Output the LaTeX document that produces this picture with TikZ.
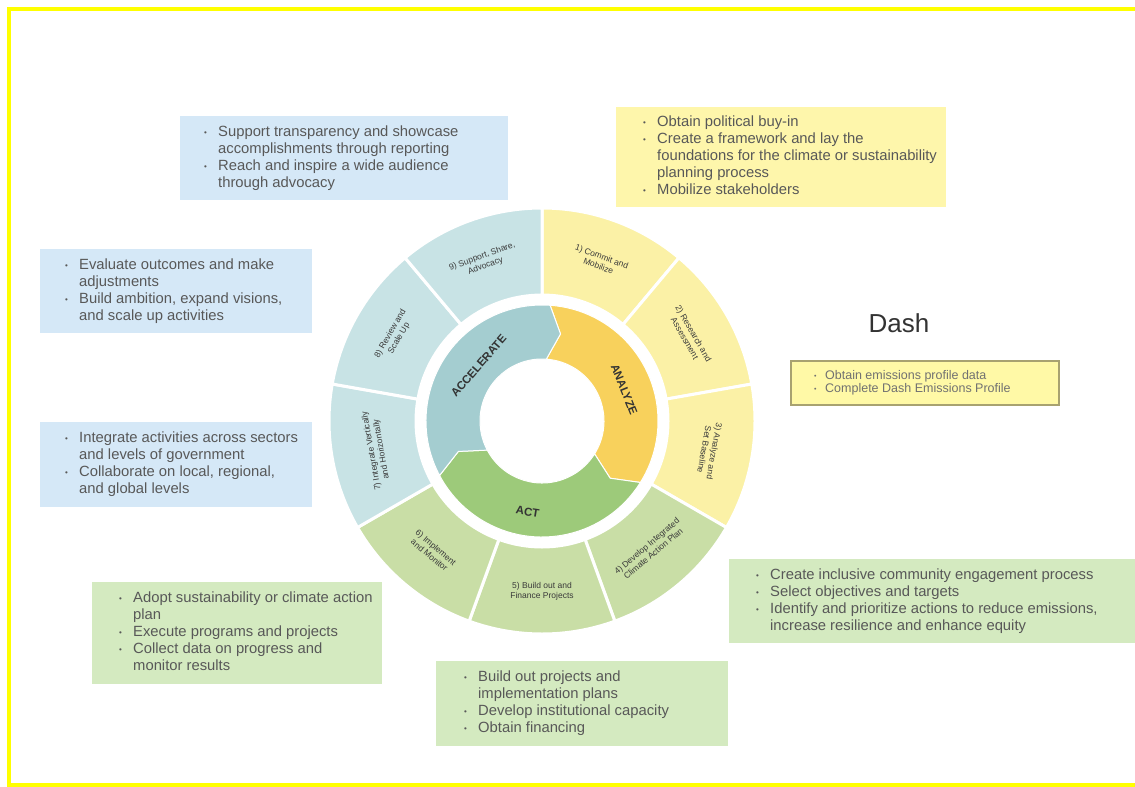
\documentclass[tikz,border=0pt]{standalone}
\usepackage{fontspec}
\setmainfont{Liberation Sans}
\usetikzlibrary{calc}

\definecolor{frameY}{HTML}{FFFF00}
\definecolor{segBlue}{HTML}{C8E3E5}
\definecolor{segYellow}{HTML}{FBF1A6}
\definecolor{segGreen}{HTML}{C9DEA6}
\definecolor{arrBlue}{HTML}{A4CDD0}
\definecolor{arrGold}{HTML}{F8D15C}
\definecolor{arrGreen}{HTML}{9DCA7A}
\definecolor{boxBlue}{HTML}{D5E8F7}
\definecolor{boxYellow}{HTML}{FEF6AB}
\definecolor{boxGreen}{HTML}{D4EAC0}
\definecolor{dashFill}{HTML}{FFF9A6}
\definecolor{dashLine}{HTML}{A8A270}
\definecolor{bodyText}{HTML}{585858}
\definecolor{segText}{HTML}{3A3A3A}
\definecolor{titleText}{HTML}{333333}

% bullet cell used inside the text tables
\newcommand{\bu}{\hbox to 14pt{\raisebox{1pt}{\fontsize{8}{8}\selectfont\textbullet}\hfil}}
\newcommand{\sbu}{\hbox to 11pt{\raisebox{0.8pt}{\fontsize{7}{7}\selectfont\textbullet}\hfil}}

% one arrow of the inner ring: back angle #1, tip angle #2, colour #3
\newcommand{\ringarrow}[3]{%
  \filldraw[fill=#3, draw=white, line width=1pt]
    (#1:116) arc[start angle=#1, end angle={#2+8}, radius=116]
    -- (#2:89) -- ({#2+8}:62)
    arc[start angle={#2+8}, end angle=#1, radius=62]
    -- ({#1-8}:89) -- cycle;}

\tikzset{
  infobox/.style={anchor=north west, inner sep=0pt, draw=none},
  infotext/.style={anchor=west, inner sep=0pt, text=bodyText,
    font=\fontsize{14.8}{17}\selectfont},
  seglabel/.style={align=center, text=segText, inner sep=0pt,
    font=\fontsize{8.5}{10}\selectfont},
  arrowlabel/.style={inner sep=0pt, text=titleText,
    font=\bfseries\fontsize{11.5}{13}\selectfont},
  segpiece/.style={draw=white, line width=3pt}
}

\begin{document}
\begin{tikzpicture}[x=1pt,y=-1pt]
\useasboundingbox (0,0) rectangle (1135,787);
\fill[white] (0,0) rectangle (1135,787);

% yellow frame (open on the right)
\draw[frameY, line width=4pt] (1135,9) -- (9,9) -- (9,785) -- (1135,785);

% ---------------- wheel ----------------
\begin{scope}[shift={(542,421)}, y=1pt]
  % outer ring of nine steps
  \foreach \a/\c in {50/segYellow, 10/segYellow, -30/segYellow,
                     -70/segGreen, -110/segGreen, -150/segGreen,
                     170/segBlue, 130/segBlue, 90/segBlue} {
    \filldraw[segpiece, fill=\c] (\a:213) arc[start angle=\a, end angle=\a+40, radius=213]
      -- ({\a+40}:126) arc[start angle=\a+40, end angle=\a, radius=126] -- cycle;
  }
  % inner ring of three phases
  \ringarrow{86}{-40}{arrGold}
  \ringarrow{-32}{-160}{arrGreen}
  \ringarrow{208}{78}{arrBlue}

  \node[arrowlabel, rotate=49]  (lAcc) at (139:84) {ACCELERATE};
  \node[arrowlabel, rotate=-68] (lAna) at (21:88)  {ANALYZE};
  \node[arrowlabel, rotate=-9]  (lAct) at (261:92) {ACT};

  % step labels
  \node[seglabel, rotate=-20]  (s1) at (70:170)  {1) Commit and\\Mobilize};
  \node[seglabel, rotate=-60]  (s2) at (30:170)  {2) Research and\\Assessment};
  \node[seglabel, rotate=-100] (s3) at (-10:170) {3) Analyze and\\Set Baseline};
  \node[seglabel, rotate=40]   (s4) at (-50:168) {4) Develop Integrated\\Climate Action Plan};
  \node[seglabel, rotate=0]    (s5) at (-90:170) {5) Build out and\\Finance Projects};
  \node[seglabel, rotate=-40]  (s6) at (-130:170){6) Implement\\and Monitor};
  \node[seglabel, rotate=100]  (s7) at (190:168) {7) Integrate Vertically\\and Horizontally};
  \node[seglabel, rotate=60]   (s8) at (150:170) {8) Review and\\Scale Up};
  \node[seglabel, rotate=20]   (s9) at (110:170) {9) Support, Share,\\Advocacy};
\end{scope}

% ---------------- info boxes ----------------
\node[infobox, fill=boxBlue, minimum width=328pt, minimum height=84pt] (b1) at (180,116) {};
\node[infotext] (t1) at ([xshift=24pt]b1.west) {%
  \begin{tabular}{@{}l@{}l@{}}
  \bu & Support transparency and showcase\\
      & accomplishments through reporting\\
  \bu & Reach and inspire a wide audience\\
      & through advocacy
  \end{tabular}};

\node[infobox, fill=boxYellow, minimum width=330pt, minimum height=100pt] (b2) at (616,107) {};
\node[infotext] (t2) at ([xshift=27pt]b2.west) {%
  \begin{tabular}{@{}l@{}l@{}}
  \bu & Obtain political buy-in\\
  \bu & Create a framework and lay the\\
      & foundations for the climate or sustainability\\
      & planning process\\
  \bu & Mobilize stakeholders
  \end{tabular}};

\node[infobox, fill=boxBlue, minimum width=272pt, minimum height=84pt] (b3) at (40,249) {};
\node[infotext] (t3) at ([xshift=25pt]b3.west) {%
  \begin{tabular}{@{}l@{}l@{}}
  \bu & Evaluate outcomes and make\\
      & adjustments\\
  \bu & Build ambition, expand visions,\\
      & and scale up activities
  \end{tabular}};

\node[infobox, fill=boxBlue, minimum width=272pt, minimum height=85pt] (b4) at (40,422) {};
\node[infotext] (t4) at ([xshift=25pt]b4.west) {%
  \begin{tabular}{@{}l@{}l@{}}
  \bu & Integrate activities across sectors\\
      & and levels of government\\
  \bu & Collaborate on local, regional,\\
      & and global levels
  \end{tabular}};

\node[infobox, fill=boxGreen, minimum width=290pt, minimum height=102pt] (b5) at (92,582) {};
\node[infotext] (t5) at ([xshift=27pt]b5.west) {%
  \begin{tabular}{@{}l@{}l@{}}
  \bu & Adopt sustainability or climate action\\
      & plan\\
  \bu & Execute programs and projects\\
  \bu & Collect data on progress and\\
      & monitor results
  \end{tabular}};

\node[infobox, fill=boxGreen, minimum width=292pt, minimum height=85pt] (b6) at (436,661) {};
\node[infotext] (t6) at ([xshift=28pt]b6.west) {%
  \begin{tabular}{@{}l@{}l@{}}
  \bu & Build out projects and\\
      & implementation plans\\
  \bu & Develop institutional capacity\\
  \bu & Obtain financing
  \end{tabular}};

\node[infobox, fill=boxGreen, minimum width=406pt, minimum height=84pt] (b7) at (729,559) {};
\node[infotext] (t7) at ([xshift=27pt]b7.west) {%
  \begin{tabular}{@{}l@{}l@{}}
  \bu & Create inclusive community engagement process\\
  \bu & Select objectives and targets\\
  \bu & Identify and prioritize actions to reduce emissions,\\
      & increase resilience and enhance equity
  \end{tabular}};

% ---------------- Dash ----------------
\node[inner sep=0pt, text=titleText, font=\fontsize{26}{30}\selectfont] (dashT) at (899,323) {Dash};
\node[infobox, draw=dashLine, line width=2pt, fill=dashFill,
      minimum width=268pt, minimum height=44pt] (dbox) at (790,360) {};
\node[infotext, font=\fontsize{12.5}{13}\selectfont, text=bodyText!85] (dtxt) at ([xshift=24pt]dbox.west) {%
  \begin{tabular}{@{}l@{}l@{}}
  \sbu & Obtain emissions profile data\\
  \sbu & Complete Dash Emissions Profile
  \end{tabular}};
\end{tikzpicture}
\end{document}
